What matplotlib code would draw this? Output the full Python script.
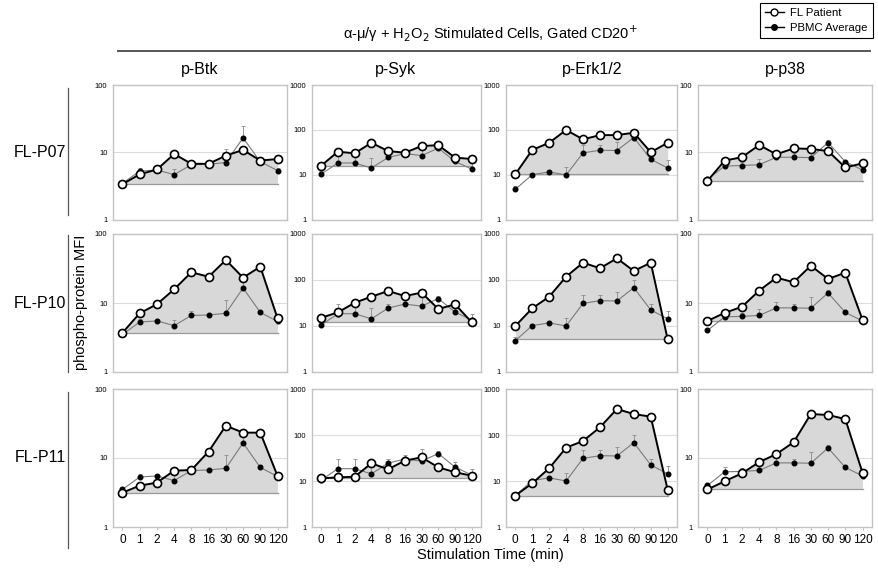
import matplotlib
matplotlib.use("Agg")
import matplotlib.pyplot as plt
from matplotlib.lines import Line2D
import numpy as np

plt.rcParams['font.family'] = ['Liberation Sans', 'DejaVu Sans']

times = ['0', '1', '2', '4', '8', '16', '30', '60', '90', '120']
proteins = ['p-Btk', 'p-Syk', 'p-Erk1/2', 'p-p38']
patients = ['FL-P07', 'FL-P10', 'FL-P11']
ytop = [100, 1000, 1000, 100]

# PBMC average (same in every row) and upper error
btk_pbmc = [3.5, 5.3, 5.5, 4.7, 6.6, 6.7, 7.1, 16.5, 7.3, 5.4]
btk_err = [0.3, 0.6, 0.3, 1.0, 1.1, 0.3, 4.0, 8.5, 0.3, 0.4]
syk_pbmc = [10.5, 18.5, 18.5, 14.3, 24.5, 30, 27, 39.5, 20, 13.5]
syk_err = [2, 12, 12, 10, 5, 6, 22, 5, 6, 5]
erk_pbmc = [4.8, 10.2, 11.7, 10, 31, 35.5, 35, 68, 22.3, 14.3]
erk_err = [1.0, 1.0, 1.0, 4.7, 16, 11.5, 19, 32, 8, 7]
p38_pbmc = [4.0, 6.3, 6.4, 6.6, 8.5, 8.5, 8.4, 14, 7.3, 5.5]
p38_err = [0.2, 1.0, 0.8, 1.5, 2.0, 1.3, 3.9, 1.5, 0.3, 0.3]

# FL patients
btk_p07 = [3.4, 4.75, 5.6, 9.5, 6.8, 6.8, 9.0, 10.9, 7.6, 8.0]
btk_p10 = [3.7, 7.1, 9.6, 15.8, 27.9, 24, 42, 23.3, 33.6, 6.0]
btk_p11 = [3.15, 3.97, 4.4, 6.55, 6.7, 12.4, 29.4, 23.3, 23.3, 5.5]
syk_p07 = [16.1, 33, 30.3, 52, 34, 31.3, 44, 46, 24.3, 22.7]
syk_p10 = [15.1, 19.8, 32, 43.4, 57.7, 44.9, 53, 23.4, 29.6, 12]
syk_p11 = [11.4, 12, 12.4, 24.2, 18, 27.7, 32.7, 19.8, 15.5, 13]
erk_p07 = [10.4, 36, 52, 100, 62, 77, 77, 87, 32, 52]
erk_p10 = [10, 24.2, 43.4, 118, 238, 180, 296, 157, 238, 5.1]
erk_p11 = [4.8, 8.9, 18.9, 53, 74, 147, 367, 286, 250, 6.4]
p38_p07 = [3.8, 7.6, 8.5, 12.9, 9.4, 11.5, 11.3, 10.5, 6.0, 6.9]
p38_p10 = [5.5, 7.2, 8.8, 15.1, 23.3, 20, 34.7, 22.3, 27.5, 5.7]
p38_p11 = [3.5, 4.6, 6.0, 8.7, 11.4, 16.9, 43.4, 42, 36.7, 6.1]

pbmc = [btk_pbmc, syk_pbmc, erk_pbmc, p38_pbmc]
errs = [btk_err, syk_err, erk_err, p38_err]
fl = [[btk_p07, syk_p07, erk_p07, p38_p07],
      [btk_p10, syk_p10, erk_p10, p38_p10],
      [btk_p11, syk_p11, erk_p11, p38_p11]]

W, H = 879, 568
fig = plt.figure(figsize=(W / 100, H / 100), dpi=100)

col_l = [113, 312, 506, 698]
col_r = [287, 481, 677, 872]
row_t = [85, 234, 389]
row_b = [220, 372, 527]

x = np.arange(len(times))
spine_c = '#c4c4c4'
for r in range(3):
    for c in range(4):
        ax = fig.add_axes([col_l[c] / W, 1 - row_b[r] / H,
                           (col_r[c] - col_l[c]) / W, (row_b[r] - row_t[r]) / H])
        ax.set_yscale('log')
        ax.set_ylim(1, ytop[c])
        ax.set_xlim(-0.55, 9.55)
        ax.minorticks_off()
        yt = [10 ** k for k in range(int(np.log10(ytop[c])) + 1)]
        ax.set_yticks(yt)
        ax.set_yticklabels([str(v) for v in yt], fontsize=5.5)
        for v in yt[1:-1]:
            ax.axhline(v, color='#dddddd', lw=0.8, zorder=0)
        for s in ax.spines.values():
            s.set_color(spine_c)
            s.set_linewidth(1.0)
        ax.tick_params(axis='y', length=0, pad=4)
        ax.set_xticks(x)
        if r == 2:
            ax.set_xticklabels(times, fontsize=8.5)
            ax.tick_params(axis='x', length=2, color=spine_c, pad=3)
        else:
            ax.set_xticklabels([])
            ax.tick_params(axis='x', length=0)
        f = np.array(fl[r][c])
        base = f.min()
        ax.fill_between(x, base, f, color='#d8d8d8', lw=0, zorder=1)
        ax.plot([x[0], x[-1]], [base, base], color='#9a9a9a', lw=0.9, zorder=1.5)
        p = np.array(pbmc[c])
        e = np.array(errs[c])
        ax.errorbar(x, p, yerr=[np.zeros_like(e), e], fmt='none', ecolor='#8a8a8a',
                    elinewidth=0.6, capsize=1.5, capthick=0.6, zorder=2)
        ax.plot(x, p, color='#7a7a7a', lw=0.8, marker='o', ms=3.3, mfc='black',
                mec='black', zorder=3)
        ax.plot(x, f, color='black', lw=1.4, marker='o', ms=5.8, mfc='white',
                mec='black', mew=1.2, zorder=4)

# header
fig.text(490 / W, 1 - 34 / H,
         'α-μ/γ + H$_2$O$_2$ Stimulated Cells, Gated CD20$^{+}$',
         ha='center', va='center', fontsize=10.5)
fig.add_artist(Line2D([118 / W, 870 / W], [1 - 51 / H, 1 - 51 / H],
                      color='#555555', lw=1.4))
col_cx = [200, 395, 592, 785]
for c in range(4):
    fig.text(col_cx[c] / W, 1 - 70 / H, proteins[c], ha='center', va='center',
             fontsize=11.5)

row_cy = [153, 303, 458]
vl = [(88, 215), (235, 372), (392, 548)]
for r in range(3):
    fig.text(40 / W, 1 - row_cy[r] / H, patients[r], ha='center', va='center',
             fontsize=11.5)
    fig.add_artist(Line2D([68 / W, 68 / W], [1 - vl[r][0] / H, 1 - vl[r][1] / H],
                          color='#555555', lw=0.9))

fig.text(81 / W, 1 - 302 / H, 'phospho-protein MFI', rotation=90, ha='center',
         va='center', fontsize=10.5)
fig.text(490 / W, 1 - 555 / H, 'Stimulation Time (min)', ha='center',
         va='center', fontsize=10.5)

handles = [Line2D([], [], color='black', lw=1.0, marker='o', ms=5, mfc='white',
                  mec='black', mew=1.0),
           Line2D([], [], color='black', lw=1.0, marker='o', ms=4, mfc='black',
                  mec='black')]
leg = fig.legend(handles, ['FL Patient', 'PBMC Average'], loc='upper right',
                 bbox_to_anchor=(873 / W, 1 - 3 / H), fontsize=8.2,
                 fancybox=False, edgecolor='black', framealpha=1,
                 handlelength=1.6, borderpad=0.45, labelspacing=0.45,
                 handletextpad=0.6, borderaxespad=0)
leg.get_frame().set_linewidth(0.8)

fig.savefig('out.png', dpi=100)
